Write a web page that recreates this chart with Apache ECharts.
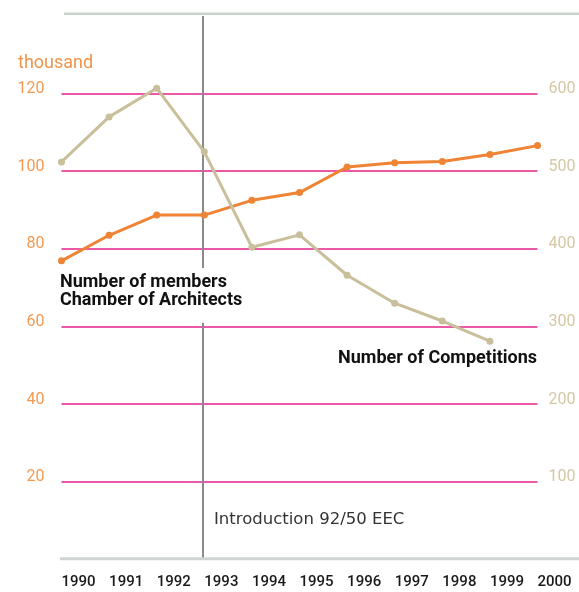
<!DOCTYPE html>
<html>
<head>
<meta charset="utf-8">
<script src="https://cdn.jsdelivr.net/npm/echarts@6/dist/echarts.min.js"></script>
<style>
  html, body { margin: 0; padding: 0; background: #fff; }
  #chart { width: 579px; height: 592px; }
</style>
</head>
<body>
<div id="chart"></div>
<script>
// data
var years = [1990, 1991, 1992, 1993, 1994, 1995, 1996, 1997, 1998, 1999, 2000];
// members of the Chamber of Architects (thousand), left axis
var members = [76.9, 83.5, 88.7, 88.7, 92.5, 94.5, 101.1, 102.2, 102.5, 104.3, 106.6];
// number of competitions, right axis (1990-1999)
var competitions = [512, 570, 607, 525, 402, 418, 366, 330, 307, 281];
var eecYear = 1992.96; // Introduction 92/50 EEC

var chart = echarts.init(document.getElementById("chart"));
chart.setOption({
  animation: false,
  backgroundColor: "#fff",
  grid: { left: 61.5, right: 41.5, top: 16, bottom: 32.7 },
  xAxis: {
    type: "value",
    min: 1990,
    max: 2000,
    interval: 1,
    axisLine: { show: false },
    axisTick: { show: false },
    splitLine: { show: false },
    axisLabel: {
      align: "left",
      margin: 15,
      fontFamily: "Roboto",
      fontSize: 15,
      fontWeight: 500,
      color: "#1a1a1a",
      formatter: function (v) { return String(v); },
    },
  },
  yAxis: [
    {
      type: "value",
      min: 0,
      max: 140,
      interval: 20,
      axisLine: { show: false },
      axisTick: { show: false },
      splitLine: {
        show: true,
        showMinLine: false,
        showMaxLine: false,
        lineStyle: { color: "#e5218a", width: 1.5 },
      },
      axisLabel: {
        margin: 17,
        fontFamily: "Roboto",
        fontSize: 16,
        color: "#f39a52",
        verticalAlign: "bottom",
        lineHeight: 9,
        formatter: function (v) { return v === 0 || v === 140 ? "" : String(v); },
      },
    },
    {
      type: "value",
      min: 0,
      max: 700,
      interval: 100,
      axisLine: { show: false },
      axisTick: { show: false },
      splitLine: { show: false },
      axisLabel: {
        margin: 11,
        fontFamily: "Roboto",
        fontSize: 16,
        color: "#d4c8a4",
        verticalAlign: "bottom",
        lineHeight: 9,
        formatter: function (v) { return v === 0 || v === 700 ? "" : String(v); },
      },
    },
  ],
  series: [
    {
      name: "Number of members",
      type: "line",
      yAxisIndex: 0,
      z: 3,
      data: years.map(function (y, i) { return [y, members[i]]; }),
      symbol: "circle",
      symbolSize: 7,
      lineStyle: { color: "#ee8434", width: 3 },
      itemStyle: { color: "#ee8434" },
      markLine: {
        silent: true,
        symbol: "none",
        label: { show: false },
        lineStyle: { color: "#8a8a8a", width: 2, type: "solid" },
        data: [{ xAxis: eecYear }],
        z: 1,
      },
    },
    {
      name: "Number of Competitions",
      type: "line",
      yAxisIndex: 1,
      z: 4,
      data: competitions.map(function (c, i) { return [years[i], c]; }),
      symbol: "circle",
      symbolSize: 7,
      lineStyle: { color: "#c9bf9b", width: 3 },
      itemStyle: { color: "#c9bf9b" },
    },
  ],
  graphic: [
    // frame lines top and bottom
    {
      type: "line", z: 50,
      shape: { x1: 64, y1: 13.7, x2: 579, y2: 13.7 },
      style: { stroke: "#c8d3cb", lineWidth: 2.5 },
    },
    {
      type: "line", z: 50,
      shape: { x1: 60, y1: 558.7, x2: 579, y2: 558.7 },
      style: { stroke: "#cdd6d0", lineWidth: 3 },
    },
    // gap in the EEC line behind the members label
    {
      type: "rect", z: 40,
      shape: { x: 190, y: 268, width: 25, height: 54.7 },
      style: { fill: "#fff" },
    },
    {
      type: "text", z: 60, left: 18, top: 54,
      style: { text: "thousand", fill: "#f0944c", font: "18px Roboto" },
    },
    {
      type: "text", z: 60, left: 60, top: 273,
      style: {
        text: "Number of members\nChamber of Architects",
        fill: "#111",
        font: "bold 18px Roboto",
        lineHeight: 18,
      },
    },
    {
      type: "text", z: 60, right: 42, top: 349,
      style: { text: "Number of Competitions", fill: "#111", font: "bold 18px Roboto" },
    },
    {
      type: "text", z: 60, left: 214, top: 511,
      style: { text: "Introduction 92/50 EEC", fill: "#333", font: "16.5px 'DejaVu Sans'" },
    },
  ],
});
</script>
</body>
</html>
